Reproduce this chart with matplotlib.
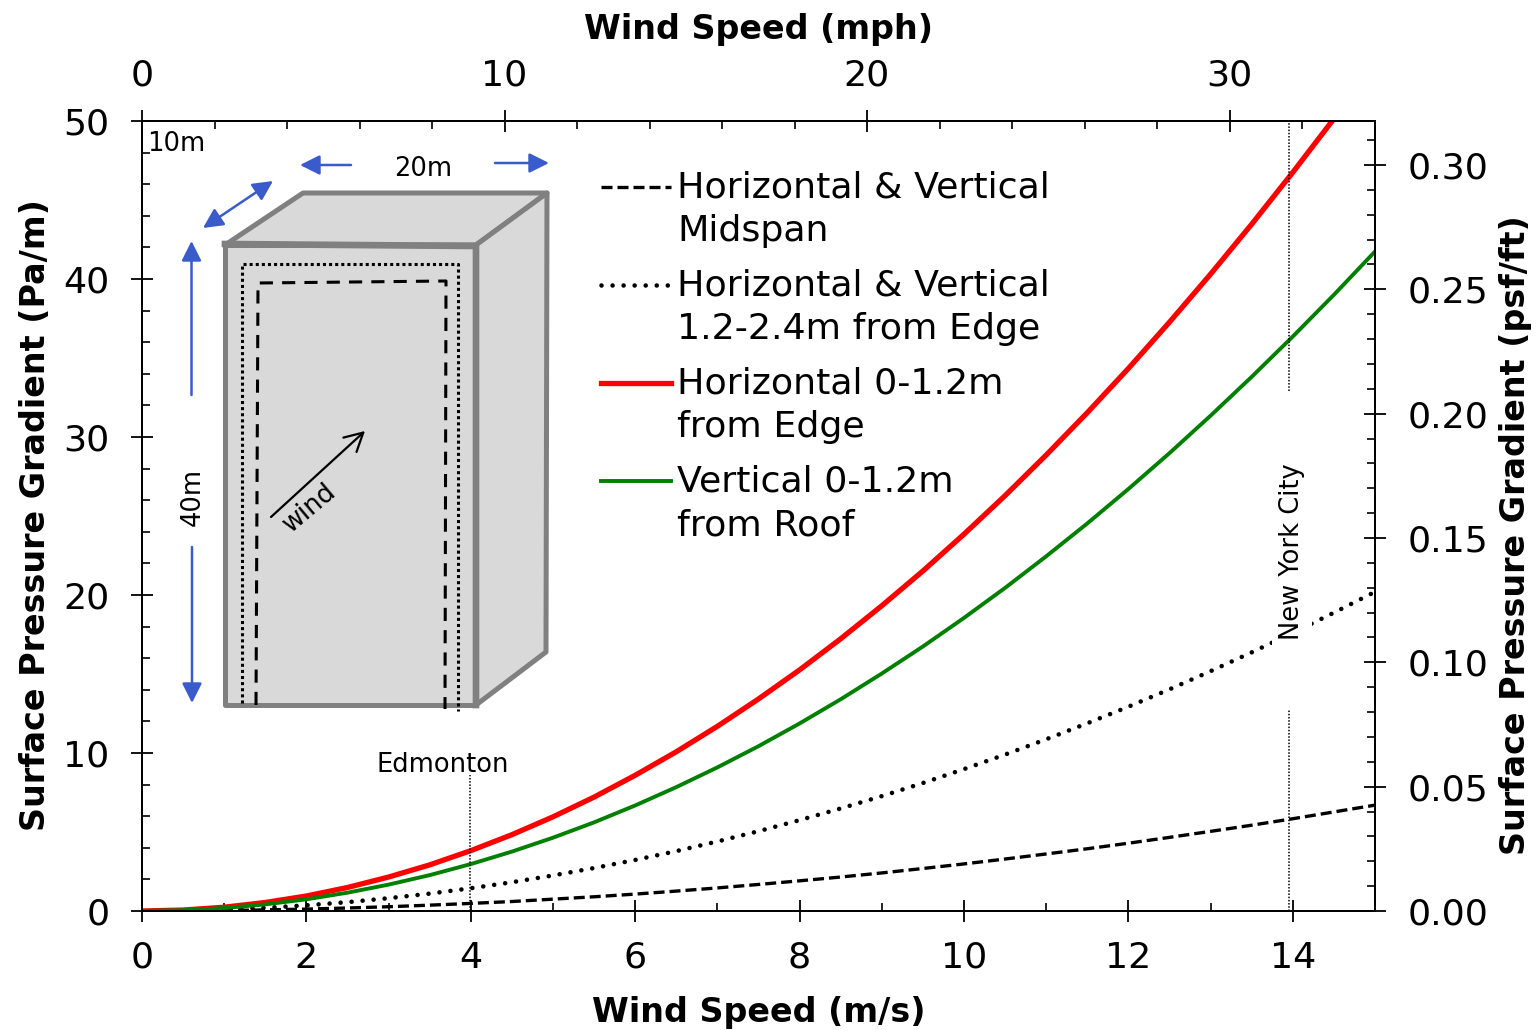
import matplotlib
matplotlib.use("Agg")
import matplotlib.pyplot as plt
from matplotlib.transforms import Affine2D
from matplotlib.patches import Polygon
from matplotlib.ticker import MultipleLocator

speed = [0, .5, 1, 1.5, 2, 2.5, 3, 3.5, 4, 4.5, 5, 5.5, 6, 6.5, 7, 7.5, 8, 8.5, 9, 9.5, 10,
         10.5, 11, 11.5, 12, 12.5, 13, 13.5, 14, 14.5, 15]
edge_horizontal = [0, .06, .24, .54, .95, 1.49, 2.15, 2.92, 3.82, 4.83, 5.96, 7.21, 8.59, 10.08, 11.69, 13.42,
                   15.26, 17.23, 19.32, 21.52, 23.85, 26.29, 28.86, 31.54, 34.34, 37.27, 40.31, 43.47, 46.75,
                   50.14, 53.66]
roof_vertical = [0, .05, .19, .42, .74, 1.16, 1.67, 2.27, 2.97, 3.76, 4.64, 5.61, 6.68, 7.84, 9.09, 10.43,
                 11.87, 13.40, 15.03, 16.74, 18.55, 20.45, 22.45, 24.53, 26.71, 28.98, 31.35, 33.81, 36.36,
                 39.0, 41.74]
from_edge = [0, .02, .09, .20, .36, .56, .81, 1.10, 1.44, 1.82, 2.25, 2.72, 3.23, 3.79, 4.40, 5.05,
             5.75, 6.49, 7.27, 8.10, 8.98, 9.90, 10.87, 11.88, 12.93, 14.03, 15.18, 16.37, 17.60, 18.88, 20.2]
midspan = [0, .01, .03, .07, .12, .19, .27, .37, .48, .60, .75, .90, 1.07, 1.26, 1.46, 1.68,
           1.91, 2.15, 2.41, 2.69, 2.98, 3.29, 3.61, 3.94, 4.29, 4.66, 5.04, 5.43, 5.84, 6.27, 6.7]

legend_labels = ["Horizontal & Vertical\nMidspan", "Horizontal & Vertical\n1.2-2.4m from Edge",
                 "Horizontal 0-1.2m\nfrom Edge", "Vertical 0-1.2m\nfrom Roof"]
x_ticks = [0, 2, 4, 6, 8, 10, 12, 14]
y_ticks = [0, 10, 20, 30, 40, 50]
mph_ticks = [0, 10, 20, 30]
psf_ticks = [0.00, 0.05, 0.10, 0.15, 0.20, 0.25, 0.30]
edmonton_speed = 3.99
nyc_speed = 13.95

W, H = 1540, 1030
fig = plt.figure(figsize=(W / 100, H / 100), dpi=100)
L, R, T, B = 142, 1375, 121, 911
ax = fig.add_axes([L / W, 1 - B / H, (R - L) / W, (B - T) / H])
px = Affine2D().scale(1 / W, -1 / H).translate(0, 1) + fig.transFigure

DASH = (0, (3.3, 1.5))
DOT = (0, (0.01, 2.4))
GREEN, RED, BLUE, GRAY = "#008000", "#ff0000", "#3a5bcc", "#808080"
TS, BS, AS = 26.2, 24, 18.5

ax.set_xlim(0, 15)
ax.set_ylim(0, 50)
ax.plot(speed, midspan, color="k", lw=2.4, ls=DASH, zorder=3)
ax.plot(speed, from_edge, color="k", lw=3.3, ls=DOT, dash_capstyle="round", zorder=3)
ax.plot(speed, edge_horizontal, color=RED, lw=3.8, zorder=4)
ax.plot(speed, roof_vertical, color=GREEN, lw=2.8, zorder=4)

# city marker lines
ax.plot([edmonton_speed] * 2, [0, 8.6], color="k", lw=1.1, ls=(0, (1, 1.1)), zorder=5)
ax.plot([nyc_speed] * 2, [0, 12.7], color="k", lw=1.1, ls=(0, (1, 1.1)), zorder=5)
ax.plot([nyc_speed] * 2, [32.9, 50], color="k", lw=1.1, ls=(0, (1, 1.1)), zorder=5)
ax.text(443, 765, "Edmonton", transform=px, fontsize=AS, ha="center", va="center", zorder=6)
ax.text(1292, 552, "New York City", transform=px, fontsize=AS, rotation=90, ha="center", va="center",
        zorder=6, bbox=dict(fc="white", ec="none", pad=5))

# axes and ticks
ax.set_xticks(x_ticks)
ax.set_yticks(y_ticks)
ax.xaxis.set_minor_locator(MultipleLocator(1))
ax.yaxis.set_minor_locator(MultipleLocator(2))
ax.set_xlabel("Wind Speed (m/s)", fontsize=BS, fontweight="bold", va="center")
ax.xaxis.set_label_coords(0.5004, -0.1285)
ax.set_ylabel("Surface Pressure Gradient (Pa/m)", fontsize=BS, fontweight="bold", va="center")
ax.yaxis.set_label_coords(-0.0862, 0.5013)
ax.tick_params(axis="both", which="major", direction="inout", length=16.5, width=1.3, labelsize=TS)
ax.tick_params(axis="both", which="minor", direction="in", length=5.8, width=1.2)
ax.tick_params(axis="x", which="major", pad=13)
ax.tick_params(axis="y", which="major", pad=15)

top = ax.twiny()
top.set_xlim(0, 1233 / 36.25)
top.set_xticks(mph_ticks)
top.xaxis.set_minor_locator(MultipleLocator(2))
top.set_xlabel("Wind Speed (mph)", fontsize=BS, fontweight="bold", va="center")
top.xaxis.set_label_coords(0.5004, 1.1155)
top.tick_params(axis="x", which="major", direction="inout", length=16.5, width=1.3, labelsize=TS, pad=12.5)
top.tick_params(axis="x", which="minor", direction="in", length=5.8, width=1.2)

right = ax.twinx()
right.set_ylim(0, 790 / (746 / 0.30))
right.set_yticks(psf_ticks)
right.set_yticklabels([f"{v:.2f}" for v in psf_ticks])
right.yaxis.set_minor_locator(MultipleLocator(0.01))
right.set_ylabel("Surface Pressure Gradient (psf/ft)", fontsize=BS, fontweight="bold", va="center")
right.yaxis.set_label_coords(1.1143, 0.476)
right.tick_params(axis="y", which="major", direction="inout", length=16.5, width=1.3, labelsize=TS, pad=15)
right.tick_params(axis="y", which="minor", direction="in", length=5.8, width=1.2)
for lab in ax.get_yticklabels() + right.get_yticklabels():
    lab.set_va("center_baseline")
for a in (ax, top, right):
    for s in a.spines.values():
        s.set_linewidth(1.3)

# building sketch
kw = dict(transform=px, clip_on=False, zorder=2, joinstyle="round")
ax.add_patch(Polygon([(225, 245), (303, 193), (547, 193), (476, 245)], fc="#d9d9d9", ec=GRAY, lw=3.6, **kw))
ax.add_patch(Polygon([(476, 245), (547, 193), (546, 652), (476, 705)], fc="#d9d9d9", ec=GRAY, lw=3.6, **kw))
ax.add_patch(Polygon([(225, 245), (476, 245), (476, 705), (225, 705)], fc="#d9d9d9", ec=GRAY, lw=3.6, **kw))
ax.plot([225, 476, 476], [244, 246, 705], transform=px, color=GRAY, lw=4.8, zorder=2, clip_on=False,
        solid_joinstyle="round")
ax.plot([242, 242, 458, 458], [703, 264, 264, 711], transform=px, color="k", lw=2.2,
        ls=(0, (1, 1)), zorder=2.5, clip_on=False)
ax.plot([256, 258, 446, 445], [705, 283, 281, 709], transform=px, color="k", lw=2.2,
        ls=(0, (4.3, 3)), zorder=2.5, clip_on=False)


def arrow(a, b, style, color=BLUE, lw=1.8):
    ax.annotate("", xy=b, xytext=a, xycoords=px, textcoords=px, zorder=2.6,
                arrowprops=dict(arrowstyle=style, color=color, lw=lw, shrinkA=0, shrinkB=0,
                                mutation_scale=1))


head = "-|>,head_length=12,head_width=6"
arrow((191.5, 395), (191.5, 241), head)
arrow((192, 547), (192, 703), head)
arrow((351, 165), (300, 165), head)
arrow((495, 163), (549, 163), head)
arrow((203, 228), (273, 181), "<|-|>,head_length=12,head_width=6")
arrow((271, 517), (365, 431), "->,head_length=13,head_width=7", color="k", lw=1.6)

for x, y, s, r in [(176, 144, "10m", 0), (423, 169, "20m", 0), (193, 497, "40m", 90), (310, 508, "wind", 40)]:
    ax.text(x, y, s, transform=px, fontsize=AS, rotation=r, ha="center", va="center", zorder=6)

# legend
entries = [(187, dict(color="k", lw=2.4, ls=DASH)),
           (285, dict(color="k", lw=3.3, ls=DOT, dash_capstyle="round")),
           (383, dict(color=RED, lw=3.8)),
           (481, dict(color=GREEN, lw=2.8))]
for (y, st), lab in zip(entries, legend_labels):
    ax.plot([601, 671], [y, y], transform=px, zorder=6, clip_on=False, **st)
    a, b = lab.split("\n")
    ax.text(677, y, a, transform=px, fontsize=TS, ha="left", va="center", zorder=6)
    ax.text(677, y + 44, b, transform=px, fontsize=TS, ha="left", va="center", zorder=6)

fig.savefig("out.png", dpi=100)
